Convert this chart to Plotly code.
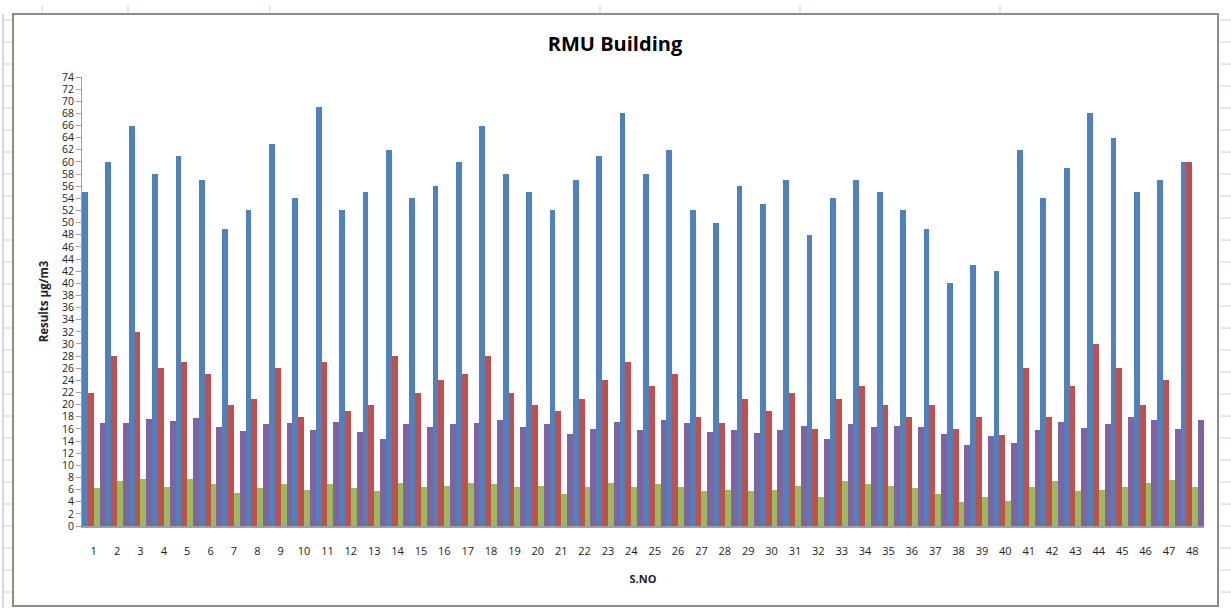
import plotly.graph_objects as go

categories = [str(i) for i in range(1, 49)]

series_blue = [55, 60, 66, 58, 61, 57, 49, 52, 63, 54, 69, 52, 55, 62, 54, 56, 60, 66, 58, 55,
               52, 57, 61, 68, 58, 62, 52, 50, 56, 53, 57, 48, 54, 57, 55, 52, 49, 40, 43, 42,
               62, 54, 59, 68, 64, 55, 57, 60]
series_red = [22, 28, 32, 26, 27, 25, 20, 21, 26, 18, 27, 19, 20, 28, 22, 24, 25, 28, 22, 20,
              19, 21, 24, 27, 23, 25, 18, 17, 21, 19, 22, 16, 21, 23, 20, 18, 20, 16, 18, 15,
              26, 18, 23, 30, 26, 20, 24, 60]
series_green = [6.2, 7.4, 7.7, 6.5, 7.7, 7.0, 5.5, 6.2, 6.9, 6.0, 6.9, 6.2, 5.7, 7.1, 6.4, 6.6,
                7.1, 6.9, 6.4, 6.6, 5.2, 6.4, 7.1, 6.4, 6.9, 6.4, 5.7, 6.0, 5.7, 6.0, 6.6, 4.7,
                7.4, 6.9, 6.6, 6.2, 5.2, 4.0, 4.7, 4.2, 6.4, 7.4, 5.8, 6.0, 6.4, 7.1, 7.6, 6.4]
series_purple = [16.9, 16.9, 17.6, 17.3, 17.8, 16.3, 15.6, 16.8, 17.0, 15.8, 17.2, 15.5, 14.3, 16.8,
                 16.3, 16.8, 17.0, 17.5, 16.3, 16.8, 15.1, 16.0, 17.2, 15.8, 17.5, 17.0, 15.5, 15.8,
                 15.3, 15.8, 16.5, 14.3, 16.8, 16.3, 16.5, 16.3, 15.1, 13.3, 14.8, 13.6, 15.8, 17.2,
                 16.2, 16.8, 18.0, 17.5, 16.0, 17.5]

series_names = ["Series1", "Series2", "Series3", "Series4"]
series_colors = ["#4F81BD", "#C0504D", "#9BBB59", "#8064A2"]
y_ticks = list(range(0, 75, 2))

fig = go.Figure()
for name, vals, col in zip(series_names, [series_blue, series_red, series_green, series_purple], series_colors):
    fig.add_trace(go.Bar(x=categories, y=vals, name=name, marker=dict(color=col, line=dict(width=0)),
                         showlegend=False))

W, H = 1231, 608
L, R, T, B = 82, 27, 77, 82
pw, ph = W - L - R, H - T - B

def px(x):
    return (x - L) / pw

def py(y):
    return (H - B - y) / ph

shapes = []
# chart border
shapes.append(dict(type="rect", xref="paper", yref="paper", x0=px(13), x1=px(1218), y0=py(606), y1=py(14),
                   line=dict(color="#8C8C8C", width=2), fillcolor="rgba(0,0,0,0)", layer="below"))
# spreadsheet grid lines outside the chart
grid_col = "#C6D4EA"
shapes.append(dict(type="line", xref="paper", yref="paper", x0=px(3), x1=px(3), y0=py(608), y1=py(14),
                   line=dict(color="#9FB6DA", width=1)))
for yy in range(20, 608, 22):
    shapes.append(dict(type="line", xref="paper", yref="paper", x0=px(3), x1=px(12), y0=py(yy), y1=py(yy),
                       line=dict(color=grid_col, width=1)))
    shapes.append(dict(type="line", xref="paper", yref="paper", x0=px(1220), x1=px(1231), y0=py(yy), y1=py(yy),
                       line=dict(color=grid_col, width=1)))
for xx in [42, 128, 270, 600, 800, 1000]:
    shapes.append(dict(type="line", xref="paper", yref="paper", x0=px(xx), x1=px(xx), y0=py(13), y1=py(5),
                       line=dict(color=grid_col, width=1)))

fig.update_layout(
    width=W, height=H,
    margin=dict(l=L, r=R, t=T, b=B, autoexpand=False),
    paper_bgcolor="white", plot_bgcolor="white",
    barmode="group", bargap=0, bargroupgap=0,
    font=dict(family="Open Sans, Arial, sans-serif", color="#1a1a1a"),
    title=dict(text="<b>RMU Building</b>", x=615 / W, xanchor="center", y=1 - 44 / H, yanchor="middle",
               font=dict(size=20, color="#000000", family="Open Sans, Arial, sans-serif")),
    shapes=shapes,
    xaxis=dict(
        type="category", showgrid=False, showline=True, linecolor="#A0A0A0", linewidth=2,
        ticks="", tickfont=dict(size=11, color="#222"), ticklabelstandoff=14,
        title=dict(text="<b>S.NO</b>", font=dict(size=11, color="#222"), standoff=18),
        automargin=False,
    ),
    yaxis=dict(
        range=[0, 74], tickvals=y_ticks, showgrid=False, zeroline=False,
        showline=True, linecolor="#A0A0A0", linewidth=1,
        ticks="outside", ticklen=5, tickcolor="#A0A0A0",
        tickfont=dict(size=10.5, color="#222"),
        title=dict(text="<b>Results µg/m3</b>", font=dict(size=11.5, color="#222"), standoff=10),
        automargin=False,
    ),
)

fig.write_html("out.html", config={"displayModeBar": False},
               post_script="document.body.style.margin='0';document.body.style.overflow='hidden';")
